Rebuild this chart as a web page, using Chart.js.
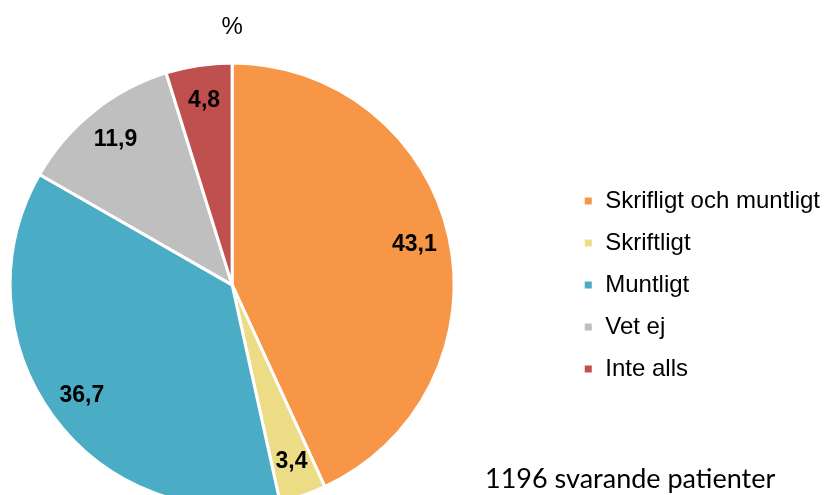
<!DOCTYPE html>
<html>
<head>
<meta charset="utf-8">
<script src="https://cdn.jsdelivr.net/npm/chart.js@4/dist/chart.umd.min.js"></script>
<style>
  body { margin: 0; background: #fff; }
  #wrap { position: relative; width: 825px; height: 495px; overflow: hidden; background: #fff; }
  #pieChart { position: absolute; left: -101px; top: 0; }
  #note {
    position: absolute; left: 485px; top: 461px;
    font-family: Lato, "Open Sans", sans-serif; font-size: 27px; color: #000;
    white-space: nowrap;
  }
</style>
</head>
<body>
<div id="wrap">
  <canvas id="pieChart" width="931" height="495"></canvas>
  <div id="note"></div>
</div>
<script>
// data
const categories = ['Skrifligt och muntligt', 'Skriftligt', 'Muntligt', 'Vet ej', 'Inte alls'];
const percentages = [43.1, 3.4, 36.7, 11.9, 4.8];
const respondents = 1196;

const sliceColors = ['#F79646', '#EDDC86', '#4BACC6', '#BFBFBF', '#C0504D'];

document.getElementById('note').textContent = respondents + ' svarande patienter';

// value labels inside the slices, decimal comma
const sliceLabels = {
  id: 'sliceLabels',
  afterDatasetsDraw(chart) {
    const ctx = chart.ctx;
    const meta = chart.getDatasetMeta(0);
    ctx.save();
    ctx.font = 'bold 23px "Liberation Sans", Arial, sans-serif';
    ctx.fillStyle = '#000';
    ctx.textAlign = 'center';
    ctx.textBaseline = 'middle';
    meta.data.forEach((arc, i) => {
      const { x, y, startAngle, endAngle, outerRadius } = arc.getProps(['x', 'y', 'startAngle', 'endAngle', 'outerRadius'], true);
      const mid = (startAngle + endAngle) / 2;
      const r = outerRadius * 0.84;
      const text = percentages[i].toFixed(1).replace('.', ',');
      ctx.fillText(text, x + Math.cos(mid) * r, y + Math.sin(mid) * r);
    });
    ctx.restore();
  }
};

const ctx = document.getElementById('pieChart').getContext('2d');

const pieChart = new Chart(ctx, {
  type: 'pie',
  data: {
    labels: categories,
    datasets: [{
      data: percentages,
      backgroundColor: sliceColors,
      borderColor: '#fff',
      borderWidth: 3,
      radius: 222,
      clip: false,
    }],
  },
  options: {
    responsive: false,
    animation: false,
    devicePixelRatio: 1,
    plugins: {
      title: {
        display: true,
        text: '%',
        fullSize: false,
        color: '#000',
        font: { family: '"Liberation Sans", Arial, sans-serif', size: 24, weight: 'normal' },
        padding: { top: 13, bottom: 33 },
      },
      legend: {
        position: 'right',
        fullSize: false,
        labels: {
          color: '#000',
          font: { family: '"Liberation Sans", Arial, sans-serif', size: 24 },
          boxWidth: 10,
          boxHeight: 10,
          padding: 18,
        },
      },
      tooltip: { enabled: false },
    },
  },
  plugins: [sliceLabels],
});
</script>
</body>
</html>
